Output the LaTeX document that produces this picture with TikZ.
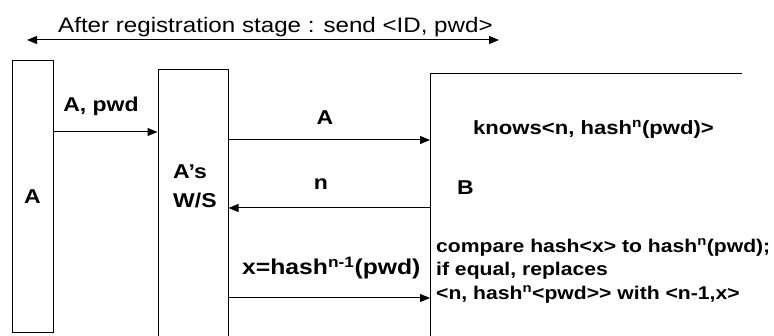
\documentclass[tikz,border=0pt]{standalone}
\usepackage{fontspec}
\setmainfont[FakeStretch=1.15]{Liberation Sans}
\usetikzlibrary{arrows.meta,positioning}

\tikzset{
  msg/.style={-{Triangle[length=10pt,width=8pt]}, line width=1pt},
  lbl/.style={font=\fontsize{20}{24}\selectfont\bfseries, inner sep=0pt},
  note/.style={font=\fontsize{18.4}{23.5}\selectfont\bfseries, inner sep=0pt, align=left},
  party/.style={draw, line width=1pt, inner sep=0pt},
}

\begin{document}
\begin{tikzpicture}[x=1pt,y=-1pt]
\clip (0,0) rectangle (774,336);

% Registration arrow on top
\node[font=\fontsize{21}{25}\selectfont, inner sep=0pt, anchor=base west] (reg) at (58,33)
  {After registration stage : send <ID, pwd>};
\coordinate (regL) at (27,40);
\coordinate (regR) at (499,40);
\draw[{Triangle[length=10pt,width=8pt]}-{Triangle[length=10pt,width=8pt]}, line width=1pt] (regL) -- (regR);

% User A and the workstation
\node[party, lbl, minimum width=41pt, minimum height=272pt] (userA) at (32.5,197) {A};
\node[party, minimum width=70pt, minimum height=290pt] (ws) at (193,215) {};
\node[lbl, font=\fontsize{20}{29}\selectfont\bfseries, align=left, anchor=north west] (wsname) at (173,165) {A’s\\W/S};

% Server B, open on the right and below
\coordinate (Bcorner) at (430,74);
\draw[line width=1pt] (430,345) -- (Bcorner) -- (742,74);
\node[lbl, anchor=base west] (Bname) at (457,195) {B};
\node[note, font=\fontsize{19.2}{23.5}\selectfont\bfseries, anchor=base west] (knows) at (473,135)
  {knows<n, hash\textsuperscript{n}(pwd)>};
\node[note, anchor=north west] (compare) at (436,238.5)
  {compare hash<x> to hash\textsuperscript{n}(pwd);\\ if equal, replaces\\ <n, hash\textsuperscript{n}<pwd>{}> with <n-1,x>};

% Messages
\draw[msg] (userA.east |- 0,132) -- (ws.west |- 0,132);
\node[lbl, anchor=base] (mA) at (101,112) {A, pwd};
\draw[msg] (ws.east |- 0,140) -- (Bcorner |- 0,140);
\node[lbl, anchor=base] (m1) at (325,125) {A};
\draw[msg] (Bcorner |- 0,208) -- (ws.east |- 0,208);
\node[lbl, anchor=base] (m2) at (321,190) {n};
\draw[msg] (ws.east |- 0,298) -- (Bcorner |- 0,298);
\node[lbl, font=\fontsize{21.5}{24}\selectfont\bfseries, anchor=base west] (m3) at (242,275)
  {x=hash\textsuperscript{n-1}(pwd)};
\end{tikzpicture}
\end{document}
